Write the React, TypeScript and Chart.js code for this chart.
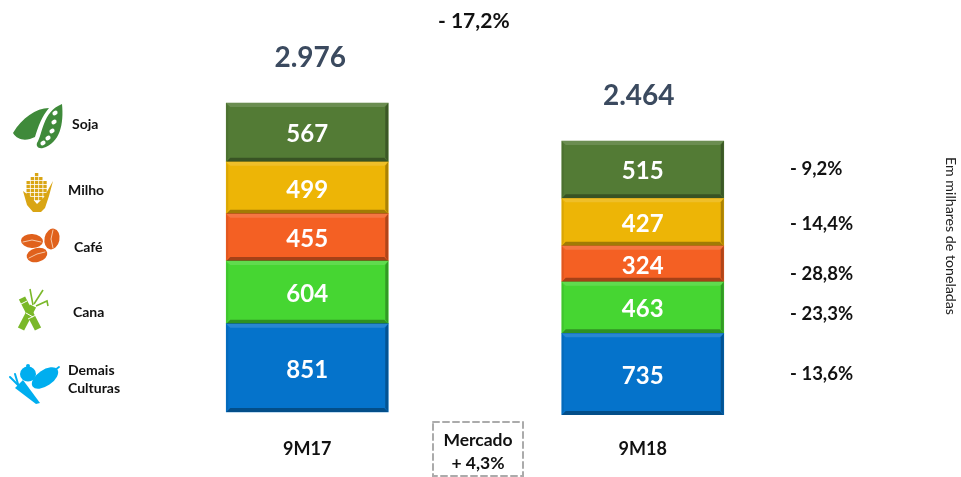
import React, { useEffect, useRef } from "react";
import { Chart, registerables } from "chart.js";

Chart.register(...registerables);

// Volumes in thousand tonnes, bottom segment first.
const periods = ["9M17", "9M18"];
const crops = ["Demais Culturas", "Cana", "Café", "Milho", "Soja"];
const volumes9M17 = [851, 604, 455, 499, 567];
const volumes9M18 = [735, 463, 324, 427, 515];
const changeLabels = ["- 13,6%", "- 23,3%", "- 28,8%", "- 14,4%", "- 9,2%"];
const segmentColors = ["#0573CB", "#46D632", "#F46023", "#EDB506", "#537B35"];

const FONT = "Lato, Carlito, 'Open Sans', sans-serif";

function text(
  ctx: CanvasRenderingContext2D,
  s: string,
  x: number,
  y: number,
  font: string,
  color = "#111",
  align: CanvasTextAlign = "left"
) {
  ctx.font = `${font} ${FONT}`;
  ctx.fillStyle = color;
  ctx.textAlign = align;
  ctx.textBaseline = "middle";
  ctx.fillText(s, x, y);
}

function ellipse(ctx: CanvasRenderingContext2D, x: number, y: number, rx: number, ry: number, rot: number) {
  ctx.beginPath();
  ctx.ellipse(x, y, rx, ry, rot, 0, Math.PI * 2);
  ctx.fill();
}

function stroke(ctx: CanvasRenderingContext2D, w: number, pts: number[]) {
  ctx.lineWidth = w;
  ctx.beginPath();
  ctx.moveTo(pts[0], pts[1]);
  for (let i = 2; i < pts.length; i += 2) ctx.lineTo(pts[i], pts[i + 1]);
  ctx.stroke();
}

function soyIcon(ctx: CanvasRenderingContext2D) {
  ctx.fillStyle = "#3F8A3A";
  ctx.beginPath();
  ctx.moveTo(13, 133);
  ctx.bezierCurveTo(22, 118, 36, 108, 49, 108);
  ctx.bezierCurveTo(42, 116, 38, 127, 35, 137);
  ctx.bezierCurveTo(27, 141, 18, 141, 13, 133);
  ctx.fill();
  ctx.beginPath();
  ctx.moveTo(62, 104);
  ctx.bezierCurveTo(64, 124, 60, 143, 43, 148);
  ctx.bezierCurveTo(38, 149, 36, 146, 37, 143);
  ctx.bezierCurveTo(43, 134, 42, 112, 62, 104);
  ctx.fill();
  ctx.fillStyle = "#fff";
  [[55, 113], [54, 122], [52, 131], [48, 138], [43, 143]].forEach(([x, y]) =>
    ellipse(ctx, x, y, 2.8, 2.1, -0.6)
  );
}

function cornIcon(ctx: CanvasRenderingContext2D) {
  ctx.fillStyle = "#D9A514";
  const rows = [[173, 1], [177, 3], [181, 5], [185, 5], [189, 5], [193, 5], [197, 3]];
  rows.forEach(([y, n]) => {
    for (let i = 0; i < n; i++) {
      ctx.fillRect(36.6 + (i - (n - 1) / 2) * 4.2 - 1.7, y, 3.4, 3.2);
    }
  });
  ctx.beginPath();
  ctx.moveTo(23, 191);
  ctx.lineTo(31, 197);
  ctx.lineTo(37, 204);
  ctx.lineTo(44, 197);
  ctx.lineTo(53, 181);
  ctx.lineTo(49, 196);
  ctx.lineTo(45, 208);
  ctx.lineTo(41, 212);
  ctx.lineTo(33, 212);
  ctx.lineTo(27, 205);
  ctx.closePath();
  ctx.fill();
}

function coffeeIcon(ctx: CanvasRenderingContext2D) {
  const beans = [
    [32, 241, 11, 7, 0.05],
    [52, 239, 7.5, 10.5, 0.2],
    [37, 255, 10.5, 7, -0.25],
  ];
  beans.forEach(([x, y, rx, ry, r]) => {
    ctx.fillStyle = "#E0611C";
    ellipse(ctx, x, y, rx, ry, r);
  });
  ctx.strokeStyle = "#F6C9A8";
  ctx.lineCap = "round";
  stroke(ctx, 1, [23, 242, 32, 240, 41, 242]);
  stroke(ctx, 1, [53, 230, 51, 239, 53, 248]);
  stroke(ctx, 1, [29, 258, 37, 254, 45, 252]);
}

function caneIcon(ctx: CanvasRenderingContext2D) {
  ctx.lineCap = "butt";
  ctx.strokeStyle = "#7AB829";
  stroke(ctx, 7, [22, 298, 38, 329]);
  stroke(ctx, 7, [33, 306, 21, 329]);
  ctx.strokeStyle = "#fff";
  stroke(ctx, 1, [19, 305, 27, 301]);
  stroke(ctx, 1, [28, 319, 36, 315]);
  stroke(ctx, 1, [26, 313, 33, 317]);
  ctx.strokeStyle = "#7AB829";
  stroke(ctx, 1.6, [33, 305, 30, 289]);
  stroke(ctx, 1.6, [34, 304, 43, 290]);
  stroke(ctx, 1.6, [36, 306, 47, 301, 48, 306]);
}

function vegetableIcon(ctx: CanvasRenderingContext2D) {
  ctx.fillStyle = "#00AEEF";
  ellipse(ctx, 28, 374, 8, 7.5, 0);
  ellipse(ctx, 28, 366, 2, 2, 0);
  ellipse(ctx, 45, 378, 15, 8, -0.6);
  ctx.strokeStyle = "#00AEEF";
  ctx.lineCap = "round";
  stroke(ctx, 1.8, [55, 370, 59, 367]);
  ctx.beginPath();
  ctx.moveTo(15, 388);
  ctx.lineTo(23, 380);
  ctx.lineTo(40, 403);
  ctx.lineTo(36, 404);
  ctx.closePath();
  ctx.fill();
  stroke(ctx, 2, [18, 385, 10, 377]);
  stroke(ctx, 2, [18, 384, 15, 374]);
}

// Bevelled edges, value labels and totals painted from the bar elements.
const barDecor = {
  id: "barDecor",
  afterDatasetsDraw(chart: any) {
    const ctx: CanvasRenderingContext2D = chart.ctx;
    const tops: Record<number, number> = {};
    const sums: Record<number, number> = {};
    const xs: Record<number, number> = {};
    chart.data.datasets.forEach((ds: any, d: number) => {
      const meta = chart.getDatasetMeta(d);
      ds.data.forEach((v: number | null, i: number) => {
        if (v == null) return;
        const bar = meta.data[i];
        const { x, y, base, width } = bar.getProps(["x", "y", "base", "width"], true);
        const l = x - width / 2;
        const r = x + width / 2;
        const b = 4;
        const face = (pts: number[], fill: string) => {
          ctx.fillStyle = fill;
          ctx.beginPath();
          ctx.moveTo(pts[0], pts[1]);
          for (let k = 2; k < pts.length; k += 2) ctx.lineTo(pts[k], pts[k + 1]);
          ctx.closePath();
          ctx.fill();
        };
        face([l, y, r, y, r - b, y + b, l + b, y + b], "rgba(255,255,255,0.14)");
        face([l, base, r, base, r - b, base - b, l + b, base - b], "rgba(0,0,0,0.32)");
        face([r, y, r, base, r - b + 1, base - b, r - b + 1, y + b], "rgba(0,0,0,0.28)");
        face([l, y, l, base, l + 2, base - b, l + 2, y + b], "rgba(0,0,0,0.08)");
        text(ctx, String(v), x, (y + base) / 2 + 2, "bold 24px", "#fff", "center");
        tops[i] = Math.min(tops[i] ?? 1e9, y);
        sums[i] = (sums[i] ?? 0) + v;
        xs[i] = x;
      });
    });
    const totalShift = [3, -4];
    Object.keys(sums).forEach((k) => {
      const i = Number(k);
      const total = sums[i].toLocaleString("pt-BR");
      text(ctx, total, xs[i] + totalShift[i], tops[i] - 45, "bold 28px", "#3B4A5F", "center");
    });
  },
};

// Crop legend, variation figures and side notes around the plot.
const annotations = {
  id: "annotations",
  afterDraw(chart: any) {
    const ctx: CanvasRenderingContext2D = chart.ctx;
    ctx.save();
    soyIcon(ctx);
    cornIcon(ctx);
    coffeeIcon(ctx);
    caneIcon(ctx);
    vegetableIcon(ctx);

    const legendFont = "bold 14px";
    text(ctx, "Soja", 72, 124, legendFont);
    text(ctx, "Milho", 68, 190, legendFont);
    text(ctx, "Café", 74, 247, legendFont);
    text(ctx, "Cana", 73, 312, legendFont);
    text(ctx, "Demais", 68, 370, legendFont);
    text(ctx, "Culturas", 68, 388, legendFont);

    const changeY = [374, 314, 274, 224, 169];
    changeLabels.forEach((s, i) => text(ctx, s, 790, changeY[i], "bold 18.5px"));
    text(ctx, "- 17,2%", 438, 21, "bold 21px");

    ctx.strokeStyle = "#ABABAB";
    ctx.lineWidth = 2;
    ctx.setLineDash([6, 4]);
    ctx.strokeRect(433, 422, 90, 54);
    ctx.setLineDash([]);
    text(ctx, "Mercado", 478, 440, "bold 17.5px", "#111", "center");
    text(ctx, "+ 4,3%", 478, 463, "bold 17.5px", "#111", "center");

    ctx.translate(951, 236);
    ctx.rotate(Math.PI / 2);
    text(ctx, "Em milhares de toneladas", 0, 0, "14.2px", "#222", "center");
    ctx.restore();
  },
};

export default function App() {
  const ref = useRef<HTMLCanvasElement>(null);

  useEffect(() => {
    const byPeriod = [volumes9M17, volumes9M18];
    const datasets = byPeriod.flatMap((values, p) =>
      values.map((v, c) => ({
        label: `${crops[c]} ${periods[p]}`,
        data: periods.map((_, i) => (i === p ? v : null)),
        backgroundColor: segmentColors[c],
        yAxisID: p === 0 ? "yLeft" : "yRight",
        stack: "volume",
        barThickness: 162,
      }))
    );

    const chart = new Chart(ref.current!, {
      type: "bar",
      data: { labels: periods, datasets },
      options: {
        responsive: false,
        animation: false,
        layout: { padding: { left: 139.5, right: 150.5, top: 0, bottom: 0 } },
        plugins: { legend: { display: false }, tooltip: { enabled: false } },
        scales: {
          x: {
            stacked: true,
            grid: { display: false, drawTicks: false },
            border: { display: false },
            ticks: {
              color: "#111",
              padding: 23,
              font: { family: FONT, size: 18, weight: "bold" },
            },
            afterFit(scale: any) {
              scale.height = 62;
            },
          },
          yLeft: { display: false, stacked: true, min: -29, max: 3968 },
          yRight: { display: false, stacked: true, min: 0, max: 3732 },
        },
      },
      plugins: [barDecor, annotations],
    } as any);
    return () => chart.destroy();
  }, []);

  return (
    <div style={{ position: "fixed", left: 0, top: 0, width: 961, height: 477, background: "#fff" }}>
      <canvas ref={ref} width={961} height={477} style={{ display: "block" }} />
    </div>
  );
}
